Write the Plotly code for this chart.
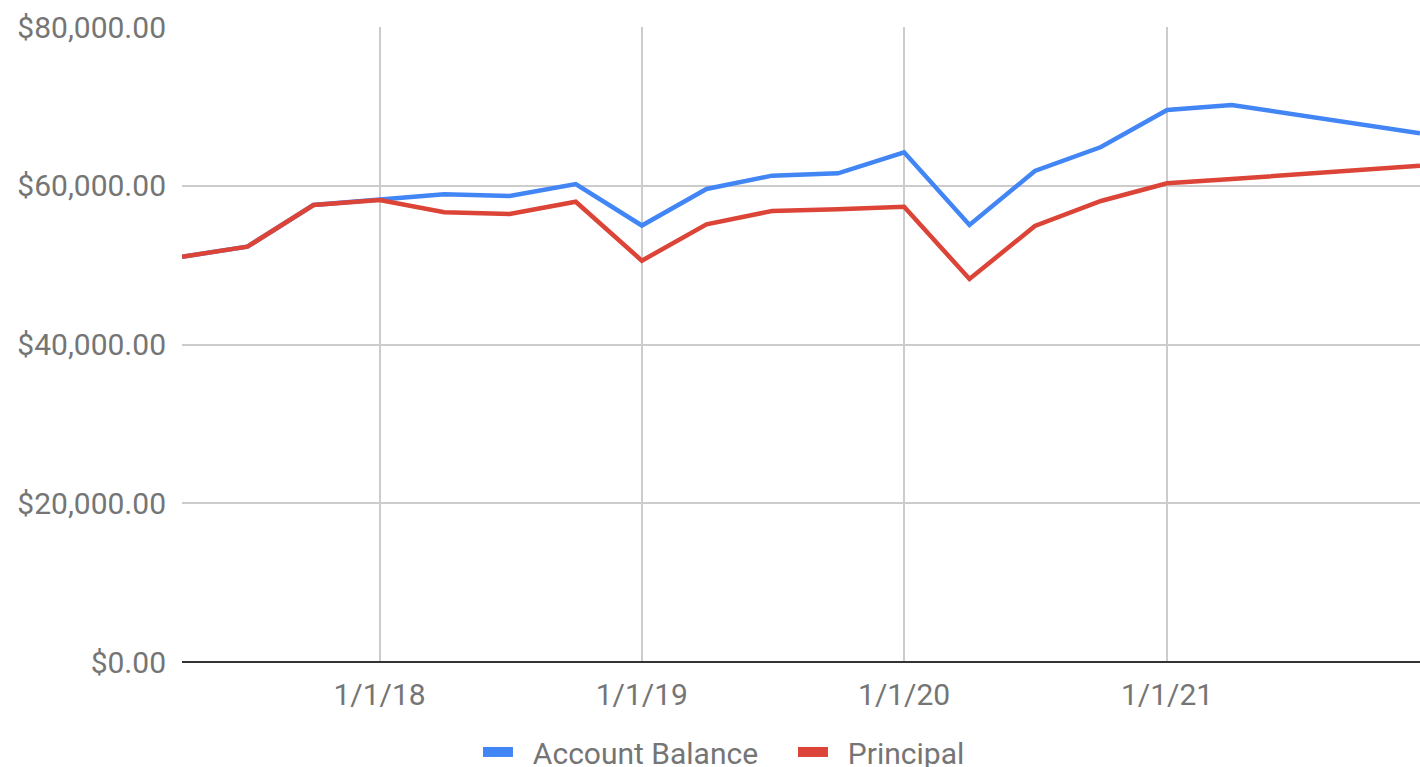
import plotly.graph_objects as go

dates = ["2017-04-01", "2017-07-01", "2017-10-01", "2018-01-01", "2018-04-01", "2018-07-01",
         "2018-10-01", "2019-01-01", "2019-04-01", "2019-07-01", "2019-10-01", "2020-01-01",
         "2020-04-01", "2020-07-01", "2020-10-01", "2021-01-01", "2021-04-01", "2021-12-19"]
account_balance = [51060, 52320, 57575, 58205, 58920, 58710, 60220, 54990, 59590, 61270,
                   61570, 64210, 55060, 61860, 64880, 69540, 70170, 66610]
principal = [51060, 52320, 57575, 58205, 56660, 56440, 57990, 50560, 55140, 56820,
             57030, 57360, 48250, 54930, 58080, 60310, 60850, 62530]
series_names = ["Account Balance", "Principal"]
x_tickvals = ["2018-01-01", "2019-01-01", "2020-01-01", "2021-01-01"]
x_ticktext = ["1/1/18", "1/1/19", "1/1/20", "1/1/21"]
y_tickvals = [0, 20000, 40000, 60000, 80000]
y_ticktext = ["$0.00", "$20,000.00", "$40,000.00", "$60,000.00", "$80,000.00"]

BLUE = "#4285F4"
RED = "#DB4437"
TXT = "#757575"
PAD = "\u00a0\u00a0"

fig = go.Figure()
for name, vals, col in zip(series_names, [account_balance, principal], [BLUE, RED]):
    fig.add_trace(go.Scatter(x=dates, y=vals, mode="lines", name=name,
                             line=dict(color=col, width=4.5), showlegend=False))
# legend entries
for name, col in zip(series_names, [BLUE, RED]):
    fig.add_trace(go.Scatter(x=[None], y=[None], mode="lines", name=PAD + name,
                             line=dict(color=col, width=10)))

fig.update_layout(
    width=1420, height=767,
    margin=dict(l=182, r=0, t=27, b=105),
    paper_bgcolor="white", plot_bgcolor="white",
    font=dict(family="Roboto", size=30, color=TXT),
    legend=dict(orientation="h", xref="container", yref="container",
                x=0.3366, y=0.0196, xanchor="left", yanchor="middle",
                font=dict(size=30, color=TXT), entrywidth=270, entrywidthmode="pixels",
                itemwidth=30),
    xaxis=dict(range=[dates[0], dates[-1]], tickvals=x_tickvals, ticktext=x_ticktext,
               showgrid=True, gridcolor="#cccccc", gridwidth=2, zeroline=False,
               showline=False, ticks="", ticklabelstandoff=12,
               tickfont=dict(size=30, color=TXT)),
    yaxis=dict(range=[0, 80000], tickvals=y_tickvals, ticktext=y_ticktext,
               showgrid=True, gridcolor="#cccccc", gridwidth=2, zeroline=True,
               zerolinecolor="#333333", zerolinewidth=2, showline=False, ticks="",
               ticklabelstandoff=15, tickfont=dict(size=30, color=TXT)),
)

fig.write_html("out.html", config={"displayModeBar": False},
               post_script="document.body.style.margin='0';document.body.style.overflow='hidden';")
